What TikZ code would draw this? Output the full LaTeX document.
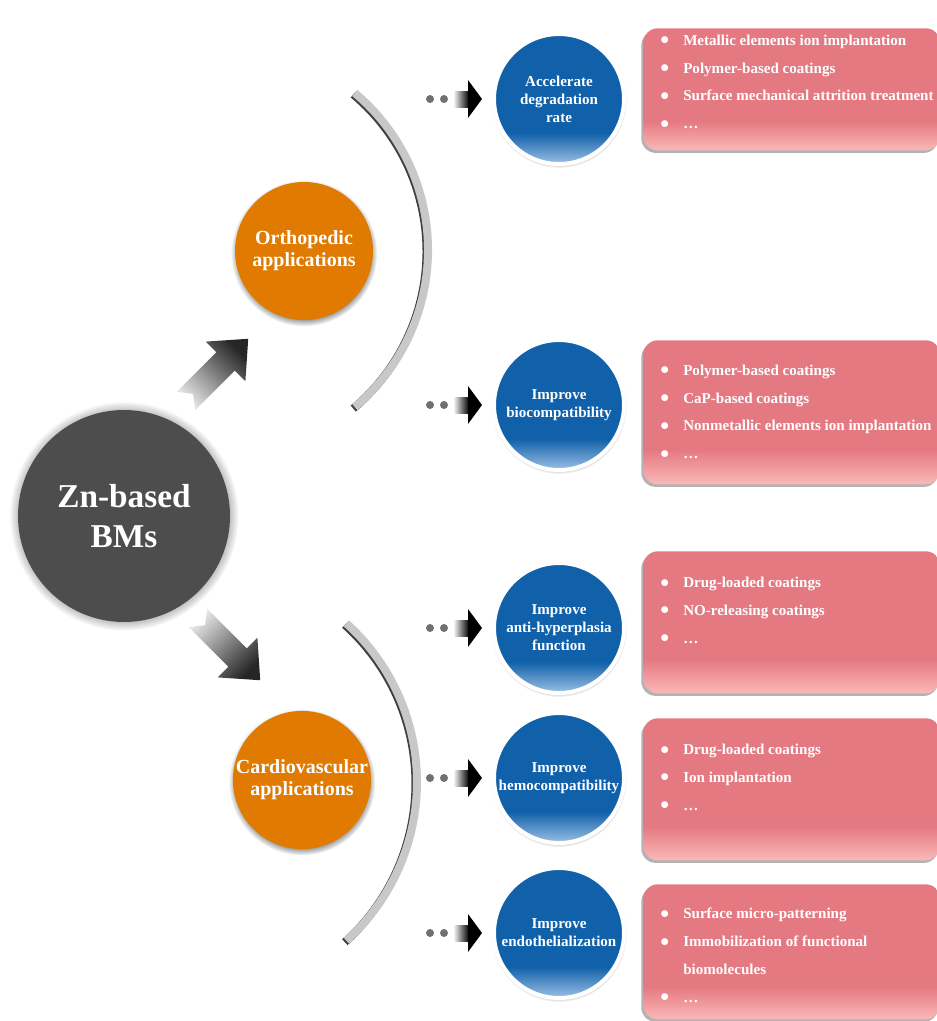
\documentclass[tikz,border=0pt]{standalone}
\usepackage{fontspec}
\setmainfont{Liberation Serif}
\usetikzlibrary{calc,shadows}

\definecolor{zngray}{HTML}{4D4D4D}
\definecolor{appcolor}{HTML}{E07A00}
\definecolor{goalblue}{HTML}{1060AA}
\definecolor{goallight}{HTML}{9CC0E4}
\definecolor{boxpink}{HTML}{E57982}
\definecolor{boxlight}{HTML}{FAB8B8}
\definecolor{dotgray}{HTML}{707070}
\definecolor{arcgray}{HTML}{C8C8C8}

\pgfdeclareverticalshading{goalshade}{100bp}{color(0bp)=(goallight); color(25bp)=(goallight); color(37bp)=(goalblue); color(100bp)=(goalblue)}
\pgfdeclareverticalshading{boxshade}{100bp}{color(0bp)=(boxlight); color(25bp)=(boxlight); color(37bp)=(boxpink); color(100bp)=(boxpink)}

\tikzset{
  core/.style={circle, fill=zngray, minimum size=159pt, inner sep=0pt, text=white, align=center,
    font=\fontsize{25}{30}\selectfont\bfseries, circular glow={fill=black!45, shadow scale=1.08}},
  field/.style={circle, fill=appcolor, minimum size=103.5pt, inner sep=0pt, text=white, align=center,
    font=\fontsize{15}{16.5}\selectfont\bfseries,
    circular drop shadow={shadow xshift=0pt, shadow yshift=-1.5pt, shadow scale=1.06, fill=black!60}},
  goal/.style={circle, shading=goalshade, draw=white, line width=3pt, minimum size=97.5pt, inner sep=0pt,
    text=white, align=center, font=\fontsize{11.3}{13.5}\selectfont\bfseries,
    circular drop shadow={shadow xshift=0pt, shadow yshift=-1pt, shadow scale=1.04, fill=black!50}},
  methods/.style={rectangle, rounded corners=11pt, shading=boxshade, minimum width=222.75pt, anchor=north west,
    drop shadow={shadow xshift=-1.5pt, shadow yshift=-2pt, fill=black!50, opacity=0.6}},
  items/.style={text=white, anchor=west, inner sep=0pt, align=left,
    font=\fontsize{11.3}{20.8}\selectfont\bfseries},
  arcband/.style={draw=arcgray, line width=6pt},
  arcedge/.style={draw=black!75, line width=6pt},
  bigarrow/.style={top color=black!10, bottom color=black!85},
}

\newcommand\itm[1]{\makebox[17.25pt][l]{\raisebox{-2.6pt}{\fontsize{19}{19}\selectfont\textbullet}}#1}
\newcommand\leadin[1]{%
  \fill[dotgray] ($(#1.west)+(-62,0)$) circle (3pt);
  \fill[dotgray] ($(#1.west)+(-48,0)$) circle (3pt);
  \shade[top color=black!5, bottom color=black, shading angle=90] ($(#1.west)+(-38,-8)$) rectangle ($(#1.west)+(-23,8)$);
  \fill[black] ($(#1.west)+(-24,-19)$) -- ($(#1.west)+(-10,0)$) -- ($(#1.west)+(-24,19)$) -- cycle;
}

\begin{document}
\begin{tikzpicture}[x=0.75pt, y=-0.75pt]
\useasboundingbox (0,0) rectangle (937,1021);

% brackets
\coordinate (c1) at (223,250);
\coordinate (c2) at (203.5,782);
\draw[arcedge] ($(c1)+(-1.5,1.5)$) ++(50:153.75pt) arc[start angle=50, end angle=-50, radius=153.75pt];
\draw[arcband] (c1) ++(50:153.75pt) arc[start angle=50, end angle=-50, radius=153.75pt];
\draw[arcedge] ($(c2)+(-1.5,1.5)$) ++(48:160.1pt) arc[start angle=48, end angle=-48, radius=160.1pt];
\draw[arcband] (c2) ++(48:160.1pt) arc[start angle=48, end angle=-48, radius=160.1pt];

% main circles
\node[core] (zn) at (124,516) {Zn-based\\BMs};
\node[field] (ortho) at (304,251) {Orthopedic\\applications};
\node[field] (cardio) at (302,780) {Cardiovascular\\applications};

% branch arrows
\begin{scope}[shift={(186,401)}, rotate=45]
  \shade[bigarrow, shading angle=135] (0,13) -- (10,0) -- (0,-13) -- (56,-13) -- (56,-28) -- (88,0) -- (56,28) -- (56,13) -- cycle;
\end{scope}
\begin{scope}[shift={(198,618)}, rotate=-45]
  \shade[bigarrow, shading angle=45] (0,13) -- (10,0) -- (0,-13) -- (56,-13) -- (56,-28) -- (88,0) -- (56,28) -- (56,13) -- cycle;
\end{scope}

% goals
\node[goal] (g1) at (559,99) {Accelerate\\degradation\\rate};
\node[goal] (g2) at (559,405) {Improve\\biocompatibility};
\node[goal] (g3) at (559,628) {Improve\\anti-hyperplasia\\function};
\node[goal] (g4) at (559,778) {Improve\\hemocompatibility};
\node[goal] (g5) at (559,933) {Improve\\endothelialization};

\foreach \g in {g1,g2,g3,g4,g5} {\leadin{\g}}

% strategies
\node[methods, minimum height=91.5pt] (m1) at (643,28) {};
\node[methods, minimum height=108pt] (m2) at (643,340) {};
\node[methods, minimum height=106.5pt] (m3) at (643,551) {};
\node[methods, minimum height=106.5pt] (m4) at (643,718) {};
\node[methods, minimum height=101.25pt] (m5) at (643,884) {};

\node[items] (l1) at (660,83.5) {\itm{Metallic elements ion implantation}\\ \itm{Polymer-based coatings}\\ \itm{Surface mechanical attrition treatment}\\ \itm{\ldots}};
\node[items] (l2) at (660,413.5) {\itm{Polymer-based coatings}\\ \itm{CaP-based coatings}\\ \itm{Nonmetallic elements ion implantation}\\ \itm{\ldots}};
\node[items] (l3) at (660,612) {\itm{Drug-loaded coatings}\\ \itm{NO-releasing coatings}\\ \itm{\ldots}};
\node[items] (l4) at (660,779) {\itm{Drug-loaded coatings}\\ \itm{Ion implantation}\\ \itm{\ldots}};
\node[items] (l5) at (660,957) {\itm{Surface micro-patterning}\\ \itm{Immobilization of functional}\\ \makebox[17.25pt]{}biomolecules\\ \itm{\ldots}};
\end{tikzpicture}
\end{document}
